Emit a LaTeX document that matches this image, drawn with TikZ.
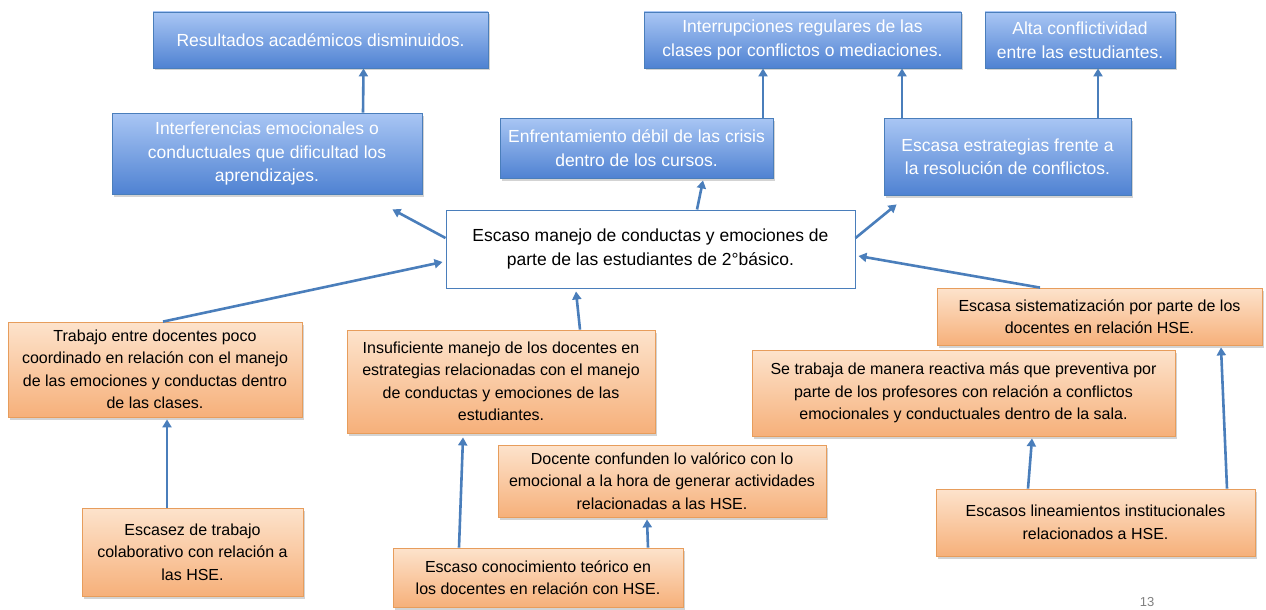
\documentclass[tikz,border=0pt]{standalone}
\usepackage{fontspec}
\setmainfont{Liberation Sans}
\usetikzlibrary{arrows.meta,shadows}

\definecolor{bordeazul}{HTML}{4A7EBB}
\definecolor{azulclaro}{HTML}{A9C6F4}
\definecolor{azuloscuro}{HTML}{4F82D2}
\definecolor{naranjaclaro}{HTML}{FDE3CC}
\definecolor{naranjaoscuro}{HTML}{F6B07A}
\definecolor{bordenaranja}{HTML}{E79D5C}
\definecolor{flechaazul}{HTML}{4A7EBB}

\begin{document}
\begin{tikzpicture}[x=1pt, y=-1pt,
  efecto/.style={draw=bordeazul, line width=0.8pt, top color=azulclaro,
    bottom color=azuloscuro, text=white, align=center, inner sep=0pt,
    font=\fontsize{17.5}{23.5}\selectfont,
    drop shadow={opacity=0.35, shadow xshift=1.5pt, shadow yshift=-2.5pt}},
  causa/.style={draw=bordenaranja, line width=0.8pt, top color=naranjaclaro,
    bottom color=naranjaoscuro, text=black, align=center, inner sep=0pt,
    font=\fontsize{16}{22.5}\selectfont,
    drop shadow={opacity=0.35, shadow xshift=1.5pt, shadow yshift=-2.5pt}},
  problema/.style={draw=bordeazul, line width=1pt, fill=white, align=center,
    inner sep=0pt, font=\fontsize{17.5}{24}\selectfont},
  flecha/.style={draw=flechaazul, line width=2.6pt,
    -{Triangle[length=8pt, width=9pt]}}]
\useasboundingbox (0,0) rectangle (1266,610);

% Efectos
\node[efecto, minimum width=335pt, minimum height=56pt] (res) at (320.5,40)
  {Resultados académicos disminuidos.};
\node[efecto, minimum width=317pt, minimum height=56pt] (interr) at (802.5,40)
  {Interrupciones regulares de las\\clases por conflictos o mediaciones.};
\node[efecto, minimum width=190pt, minimum height=56pt] (alta) at (1080,40)
  {Alta conflictividad\\entre las estudiantes.};
\node[efecto, minimum width=310pt, minimum height=81pt] (interf) at (267,153.5)
  {Interferencias emocionales o\\conductuales que dificultad los\\aprendizajes.};
\node[efecto, minimum width=273pt, minimum height=60pt] (enfr) at (636.5,148)
  {Enfrentamiento débil de las crisis\\dentro de los cursos.};
\node[efecto, minimum width=247pt, minimum height=77pt] (estrat) at (1007.5,156.5)
  {Escasa estrategias frente a\\la resolución de conflictos.};

% Problema central
\node[problema, minimum width=409pt, minimum height=78pt] (central) at (650.5,249)
  {Escaso manejo de conductas y emociones de\\parte de las estudiantes de 2°básico.};

% Causas
\node[causa, minimum width=294pt, minimum height=95pt] (trabajo) at (155,369.5)
  {Trabajo entre docentes poco\\coordinado en relación con el manejo\\de las emociones y conductas dentro\\de las clases.};
\node[causa, minimum width=308pt, minimum height=103pt] (insuf) at (501,381.5)
  {Insuficiente manejo de los docentes en\\estrategias relacionadas con el manejo\\de conductas y emociones de las\\estudiantes.};
\node[causa, minimum width=325pt, minimum height=57pt] (sistem) at (1099.5,316.5)
  {Escasa sistematización por parte de los\\docentes en relación HSE.};
\node[causa, minimum width=423pt, minimum height=86pt] (reactiva) at (963.5,393)
  {Se trabaja de manera reactiva más que preventiva por\\parte de los profesores con relación a conflictos\\emocionales y conductuales dentro de la sala.};
\node[causa, minimum width=328pt, minimum height=72pt] (confunden) at (662,481)
  {Docente confunden lo valórico con lo\\emocional a la hora de generar actividades\\relacionadas a las HSE.};
\node[causa, minimum width=221pt, minimum height=88pt] (escasez) at (192.5,552)
  {Escasez de trabajo\\colaborativo con relación a\\las HSE.};
\node[causa, minimum width=290pt, minimum height=59pt] (conoc) at (538,577.5)
  {Escaso conocimiento teórico en\\los docentes en relación con HSE.};
\node[causa, minimum width=319pt, minimum height=67pt] (linea) at (1095.5,522.5)
  {Escasos lineamientos institucionales\\relacionados a HSE.};

\node[text=gray, font=\fontsize{13}{13}\selectfont] (pagina) at (1147,602) {13};

% Flechas hacia los efectos
\draw[flecha] ([xshift=96pt]interf.north) -- ([xshift=43pt]res.south);
\draw[flecha] ([xshift=126.5pt]enfr.north) -- ([xshift=-39.5pt]interr.south);
\draw[flecha] ([xshift=-105.5pt]estrat.north) -- ([xshift=99.5pt]interr.south);
\draw[flecha] ([xshift=90.5pt]estrat.north) -- ([xshift=18pt]alta.south);
\draw[flecha] ([yshift=11pt]central.west) -- ([xshift=-30pt,yshift=-15pt]interf.south east);
\draw[flecha] ([xshift=46.5pt]central.north) -- ([xshift=66.5pt,yshift=-2pt]enfr.south);
\draw[flecha] ([yshift=11pt]central.east) -- ([xshift=13pt,yshift=-9pt]estrat.south west);

% Flechas desde las causas
\draw[flecha] ([xshift=-59.5pt]sistem.north) -- ([xshift=3pt,yshift=-7pt]central.east);
\draw[flecha] ([xshift=8pt]trabajo.north) -- ([xshift=-3pt,yshift=-13pt]central.west);
\draw[flecha] ([xshift=79pt]insuf.north) -- ([xshift=-74.5pt,yshift=-3pt]central.south);
\draw[flecha] ([xshift=-25.5pt]escasez.north) -- ([xshift=12pt,yshift=-2pt]trabajo.south);
\draw[flecha] ([xshift=-79pt]conoc.north) -- ([xshift=-38pt,yshift=-4pt]insuf.south);
\draw[flecha] ([xshift=110pt]conoc.north) -- ([xshift=-15pt,yshift=-2pt]confunden.south);
\draw[flecha] ([xshift=-67.5pt]linea.north) -- ([xshift=68.5pt,yshift=-2pt]reactiva.south);
\draw[flecha] ([xshift=131.5pt]linea.north) -- ([xshift=121.5pt,yshift=-2pt]sistem.south);
\end{tikzpicture}
\end{document}
